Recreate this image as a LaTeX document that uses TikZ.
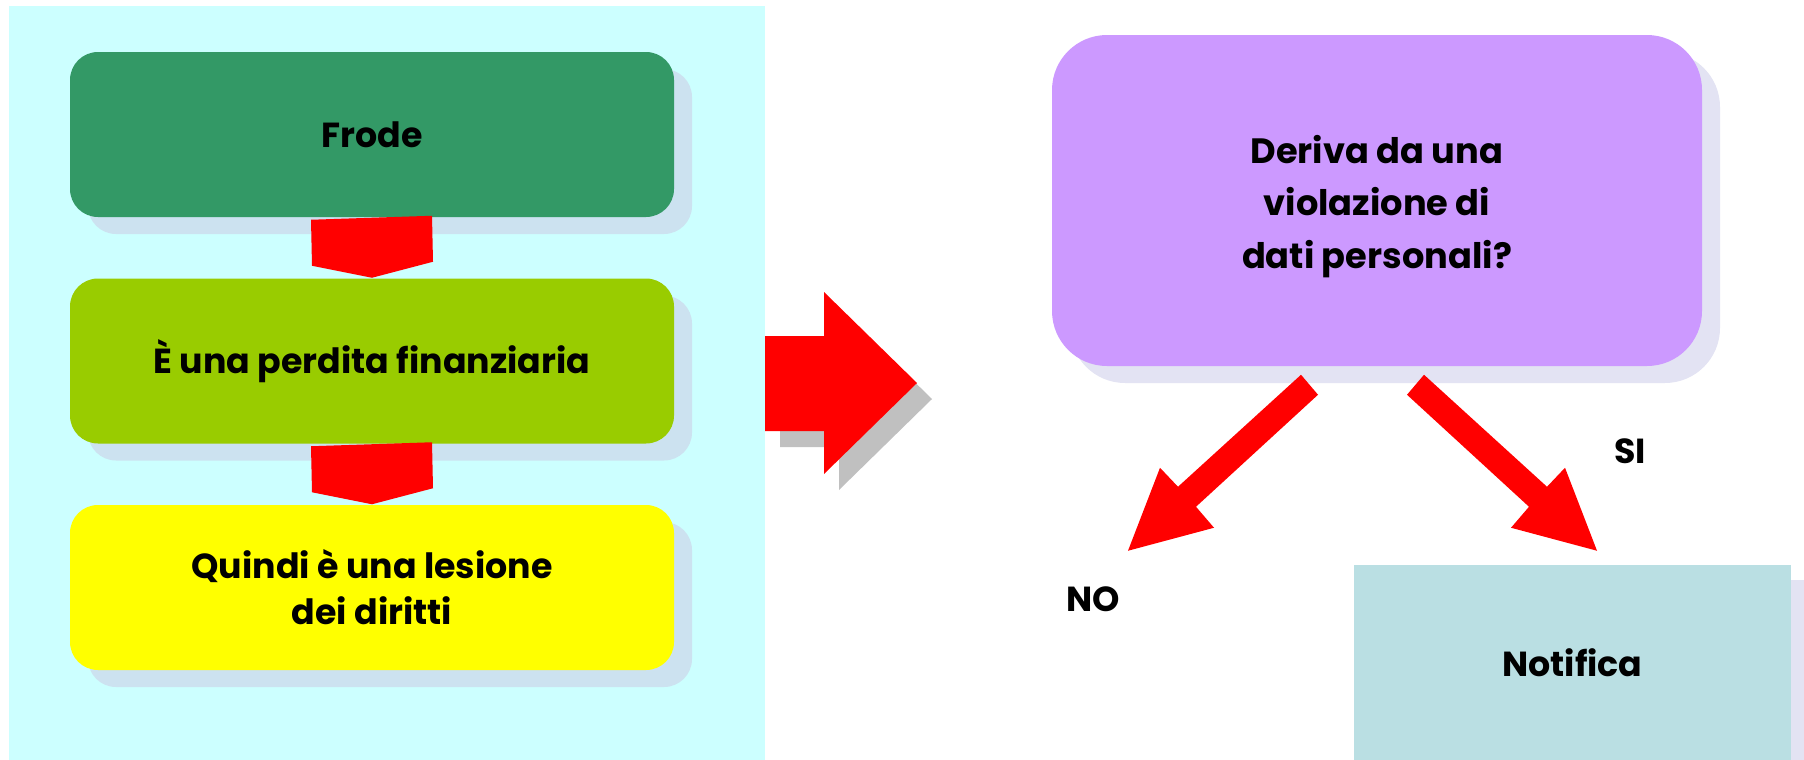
\documentclass[tikz,border=0pt]{standalone}
\usepackage{fontspec}
\setmainfont{Poppins}
\usetikzlibrary{calc}

\definecolor{panelcyan}{RGB}{204,255,255}
\definecolor{frodegreen}{RGB}{51,153,102}
\definecolor{limegreen}{RGB}{153,204,0}
\definecolor{lesioneyellow}{RGB}{255,255,0}
\definecolor{shadowblue}{RGB}{204,226,240}
\definecolor{derivapurple}{RGB}{204,153,255}
\definecolor{shadowlilac}{RGB}{227,227,243}
\definecolor{notificablue}{RGB}{186,223,227}
\definecolor{arrowgray}{RGB}{192,192,192}

\tikzset{every picture/.style={line width=0.75pt}}

\begin{document}
\begin{tikzpicture}[x=0.5pt,y=0.5pt,yscale=-1,xscale=1,
  labeltext/.style={font=\bfseries\fontsize{17.4}{23}\selectfont, text=black},
  flowbox/.style={labeltext, rounded corners=14pt, minimum width=302pt, minimum height=82.5pt, inner sep=0pt, align=center},
  redarrow/.style={fill={rgb, 255:red, 255; green, 0; blue, 0}}]
	\clip (0,0) rectangle (1804,760);

	%Shape: Rectangle [id:panel]
	\fill [panelcyan] (9,6) rectangle (765,760);

	%Shape: Shadows of the left boxes
	\fill [shadowblue, rounded corners=14pt] (88,69) rectangle (692,234);
	\fill [shadowblue, rounded corners=14pt] (88,295.5) rectangle (692,460.5);
	\fill [shadowblue, rounded corners=14pt] (88,522) rectangle (692,687);

	% Text Node
	\node [flowbox, fill=frodegreen] (frode) at (372,134.5) {Frode};
	% Text Node
	\node [flowbox, fill=limegreen] (perdita) at (372,361) {È una perdita finanziaria};
	% Text Node
	\node [flowbox, fill=lesioneyellow] (lesione) at (372,587.5) {Quindi è una lesione\\ dei diritti};

	%Shape: Pentagon arrows between the boxes
	\fill [redarrow] ($(frode.south)+(-61,2)$) -- ($(frode.south)+(60,-2)$) -- ($(frode.south)+(61,44)$) -- (perdita.north) -- ($(frode.south)+(-60,48)$) -- cycle;
	\fill [redarrow] ($(perdita.south)+(-61,2)$) -- ($(perdita.south)+(60,-2)$) -- ($(perdita.south)+(61,44)$) -- (lesione.north) -- ($(perdita.south)+(-60,48)$) -- cycle;

	%Shape: Big arrow with its shadow
	\fill [arrowgray] (780,352) -- (839,352) -- (839,308) -- (932,399) -- (839,490) -- (839,447) -- (780,447) -- cycle;
	\fill [redarrow] (765,336) -- (824,336) -- (824,292) -- (917,383) -- (824,474) -- (824,431) -- (765,431) -- cycle;

	%Shape: Shadow of the question box
	\fill [shadowlilac, rounded corners=27.5pt] (1070,52) rectangle (1720,383);
	% Text Node
	\node [flowbox, fill=derivapurple, rounded corners=27.5pt, minimum width=325pt, minimum height=165.5pt, font=\bfseries\fontsize{17.6}{26.2}\selectfont] (deriva) at (1377,200.5) {\rule{0pt}{20pt}Deriva da una\\ violazione di\\ dati personali?};

	%Shape: Answer arrows
	\fill [redarrow] ($(deriva.south)+(-76,8)$) -- ($(deriva.south)+(-59,28)$) -- ($(deriva.south)+(-181,140)$) -- ($(deriva.south)+(-163,161)$) -- ($(deriva.south)+(-249,184)$) -- ($(deriva.south)+(-217,101)$) -- ($(deriva.south)+(-199,120)$) -- cycle;
	\fill [redarrow] ($(deriva.south)+(47,8)$) -- ($(deriva.south)+(30,28)$) -- ($(deriva.south)+(152,140)$) -- ($(deriva.south)+(134,161)$) -- ($(deriva.south)+(220,184)$) -- ($(deriva.south)+(188,101)$) -- ($(deriva.south)+(170,120)$) -- cycle;

	%Shape: Shadow of the result box
	\fill [shadowlilac] (1370,580) rectangle (1810,780);
	% Text Node
	\node [labeltext, fill=notificablue, minimum width=218.5pt, minimum height=97.5pt, inner sep=0pt] (notifica) at (1572.5,662.5) {Notifica};

	% Text Node
	\node [labeltext] (no) at (1093,599) {NO};
	% Text Node
	\node [labeltext] (si) at (1630,451) {SI};

\end{tikzpicture}
\end{document}
